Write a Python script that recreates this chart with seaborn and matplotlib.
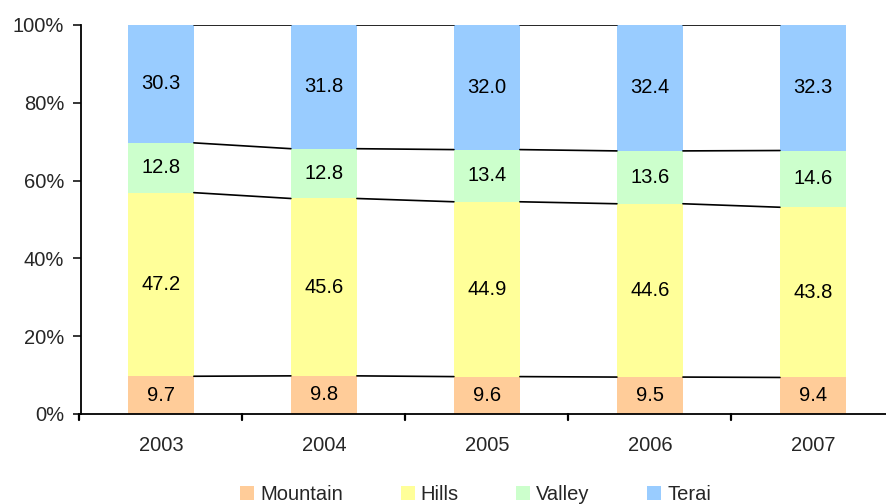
import numpy as np
import pandas as pd
import matplotlib
matplotlib.use("Agg")
import matplotlib.pyplot as plt
import seaborn as sns
from matplotlib.patches import Patch

years = ["2003", "2004", "2005", "2006", "2007"]
mountain = [9.7, 9.8, 9.6, 9.5, 9.4]
hills = [47.2, 45.6, 44.9, 44.6, 43.8]
valley = [12.8, 12.8, 13.4, 13.6, 14.6]
terai = [30.3, 31.8, 32.0, 32.4, 32.3]

regions = ["Mountain", "Hills", "Valley", "Terai"]
colors = ["#FFCC99", "#FFFF99", "#CCFFCC", "#99CCFF"]

sns.set_theme(style="white")
plt.rcParams['font.family'] = ['Liberation Sans', 'DejaVu Sans']
fs = 14.5

df = pd.DataFrame({"Year": years, "Mountain": mountain, "Hills": hills,
                   "Valley": valley, "Terai": terai})
shares = df[regions].div(df[regions].sum(axis=1), axis=0) * 100
cum = shares.cumsum(axis=1)
bottoms = cum - shares

fig = plt.figure(figsize=(8.86, 5.04), dpi=100)
ax = fig.add_axes([0.0914, 0.1786, 0.92, 0.7718])

bw = 0.405
# draw from the top layer down so each shorter bar sits over the taller one
for reg, col in reversed(list(zip(regions, colors))):
    sns.barplot(x=df["Year"], y=cum[reg], color=col, width=bw,
                saturation=1, ax=ax, linewidth=0)

# connector lines between bars
n = len(years)
for reg in regions:
    for i in range(n - 1):
        ax.plot([i + bw / 2, i + 1 - bw / 2], [cum[reg][i], cum[reg][i + 1]],
                color="black", lw=1.2, zorder=3)

# value labels
for reg, vals in zip(regions, [mountain, hills, valley, terai]):
    for i in range(n):
        ax.text(i, bottoms[reg][i] + shares[reg][i] / 2, f"{vals[i]:.1f}",
                ha="center", va="center", fontsize=fs, color="black")

ax.set_xlim(-0.49, n - 0.49)
ax.set_ylim(0, 100)
ax.set_yticks(np.arange(0, 101, 20))
ax.set_yticklabels([f"{v}%" for v in range(0, 101, 20)], fontsize=fs)
ax.set_xticks(range(n))
ax.set_xticklabels(years, fontsize=fs)
ax.set_xlabel("")
ax.set_ylabel("")
ax.tick_params(axis="x", length=0, pad=16)
ax.tick_params(axis="y", length=6, width=1.3, direction="out", left=True, pad=6)
for i in range(n):
    ax.plot([i - 0.5, i - 0.5], [0, -1.6], color="black", lw=1.6, clip_on=False)

for s in ["top", "right"]:
    ax.spines[s].set_visible(False)
for s in ["left", "bottom"]:
    ax.spines[s].set_color("black")
    ax.spines[s].set_linewidth(1.3)

handles = [Patch(facecolor=c, edgecolor="none", label=r) for r, c in zip(regions, colors)]
fig.legend(handles=handles, loc="center", bbox_to_anchor=(0.537, 0.018), ncol=4,
           frameon=False, fontsize=fs, handlelength=0.7, handleheight=0.7,
           handletextpad=0.3, columnspacing=2.85, borderpad=0)

fig.savefig("out.png", dpi=100)
